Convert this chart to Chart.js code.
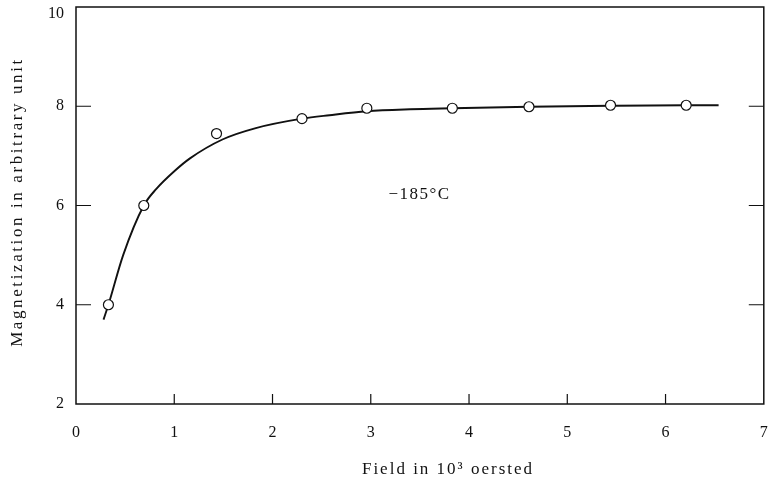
<!DOCTYPE html>
<html>
<head>
<meta charset="utf-8">
<script src="https://cdn.jsdelivr.net/npm/chart.js@4.4.0/dist/chart.umd.min.js"></script>
<style>
  html, body { margin: 0; padding: 0; background: #fff; }
  #wrap { width: 770px; height: 490px; }
</style>
</head>
<body>
<div id="wrap"><canvas id="magChart" width="770" height="490"></canvas></div>
<script>
// measured points (circles)
const fieldPoints = [0.33, 0.69, 1.43, 2.30, 2.96, 3.83, 4.61, 5.44, 6.21];
const magPoints = [4.0, 6.0, 7.45, 7.75, 7.96, 7.96, 7.99, 8.02, 8.02];

// smooth drawn curve
const curveField = [0.28, 0.33, 0.48, 0.69, 0.82, 1.0, 1.16, 1.49, 1.83, 2.3, 2.58, 2.96, 3.4, 3.83, 4.61, 5.44, 6.21, 6.54];
const curveMag = [3.7, 4.0, 5.0, 6.0, 6.34, 6.69, 6.95, 7.33, 7.56, 7.75, 7.82, 7.9, 7.94, 7.96, 7.99, 8.01, 8.02, 8.02];

const xTicks = [0, 1, 2, 3, 4, 5, 6, 7];
const yTicks = [2, 4, 6, 8, 10];
const tempLabel = '\u2212185\u00b0C';
const xTitle = 'Field in 10\u00b3 oersted';
const yTitle = 'Magnetization in arbitrary unit';

const serif = '"Liberation Serif", "DejaVu Serif", serif';

function toXY(xs, ys) {
    return xs.map((x, i) => ({ x: x, y: ys[i] }));
}

// frame, inward ticks, tick labels and titles
const framePlugin = {
    id: 'frame',
    afterDraw(chart) {
        const ctx = chart.ctx;
        const a = chart.chartArea;
        const xs = chart.scales.x;
        const ys = chart.scales.y;
        ctx.save();
        ctx.strokeStyle = '#111';
        ctx.lineWidth = 1.5;
        ctx.strokeRect(a.left, a.top, a.right - a.left, a.bottom - a.top);

        ctx.lineWidth = 1.2;
        ctx.beginPath();
        yTicks.slice(1, -1).forEach(v => {
            const py = ys.getPixelForValue(v);
            ctx.moveTo(a.left, py);
            ctx.lineTo(a.left + 15, py);
            ctx.moveTo(a.right, py);
            ctx.lineTo(a.right - 15, py);
        });
        xTicks.slice(1, -1).forEach(v => {
            const px = xs.getPixelForValue(v);
            ctx.moveTo(px, a.bottom);
            ctx.lineTo(px, a.bottom - 10);
        });
        ctx.stroke();

        ctx.fillStyle = '#111';
        ctx.textBaseline = 'middle';
        ctx.font = '16px ' + serif;
        ctx.textAlign = 'right';
        yTicks.forEach(v => {
            const py = Math.max(ys.getPixelForValue(v), 14);
            ctx.fillText(String(v), a.left - 12, py);
        });
        ctx.textAlign = 'center';
        xTicks.forEach(v => {
            ctx.fillText(String(v), xs.getPixelForValue(v), a.bottom + 29);
        });

        ctx.font = '17px ' + serif;
        ctx.letterSpacing = '1.5px';
        ctx.textAlign = 'left';
        ctx.fillText(tempLabel, xs.getPixelForValue(3.18), ys.getPixelForValue(6.22));

        ctx.letterSpacing = '2px';
        ctx.textAlign = 'center';
        ctx.fillText(xTitle, 448, 470);

        ctx.letterSpacing = '2.6px';
        ctx.translate(18, 202);
        ctx.rotate(-Math.PI / 2);
        ctx.fillText(yTitle, 0, 0);
        ctx.restore();
    }
};

document.addEventListener('DOMContentLoaded', function() {
    const ctx = document.getElementById('magChart').getContext('2d');
    new Chart(ctx, {
        type: 'scatter',
        data: {
            datasets: [{
                label: 'curve',
                data: toXY(curveField, curveMag),
                showLine: true,
                borderColor: '#111',
                borderWidth: 1.9,
                pointRadius: 0,
                cubicInterpolationMode: 'monotone',
                order: 2
            }, {
                label: 'measured',
                data: toXY(fieldPoints, magPoints),
                showLine: false,
                pointRadius: 5,
                pointBackgroundColor: '#fff',
                pointBorderColor: '#111',
                pointBorderWidth: 1.2,
                order: 1
            }]
        },
        options: {
            responsive: false,
            animation: false,
            layout: { padding: { top: 7, right: 4, left: 0, bottom: 0 } },
            plugins: {
                legend: { display: false },
                tooltip: { enabled: false }
            },
            scales: {
                x: {
                    type: 'linear',
                    min: 0,
                    max: 7,
                    afterBuildTicks: s => { s.ticks = xTicks.map(v => ({ value: v })); },
                    afterFit: s => { s.height = 86; },
                    grid: { display: false },
                    border: { display: false },
                    ticks: { display: false }
                },
                y: {
                    type: 'linear',
                    min: 2,
                    max: 10,
                    afterBuildTicks: s => { s.ticks = yTicks.map(v => ({ value: v })); },
                    afterFit: s => { s.width = 76; },
                    grid: { display: false },
                    border: { display: false },
                    ticks: { display: false }
                }
            }
        },
        plugins: [framePlugin]
    });
});
</script>
</body>
</html>
